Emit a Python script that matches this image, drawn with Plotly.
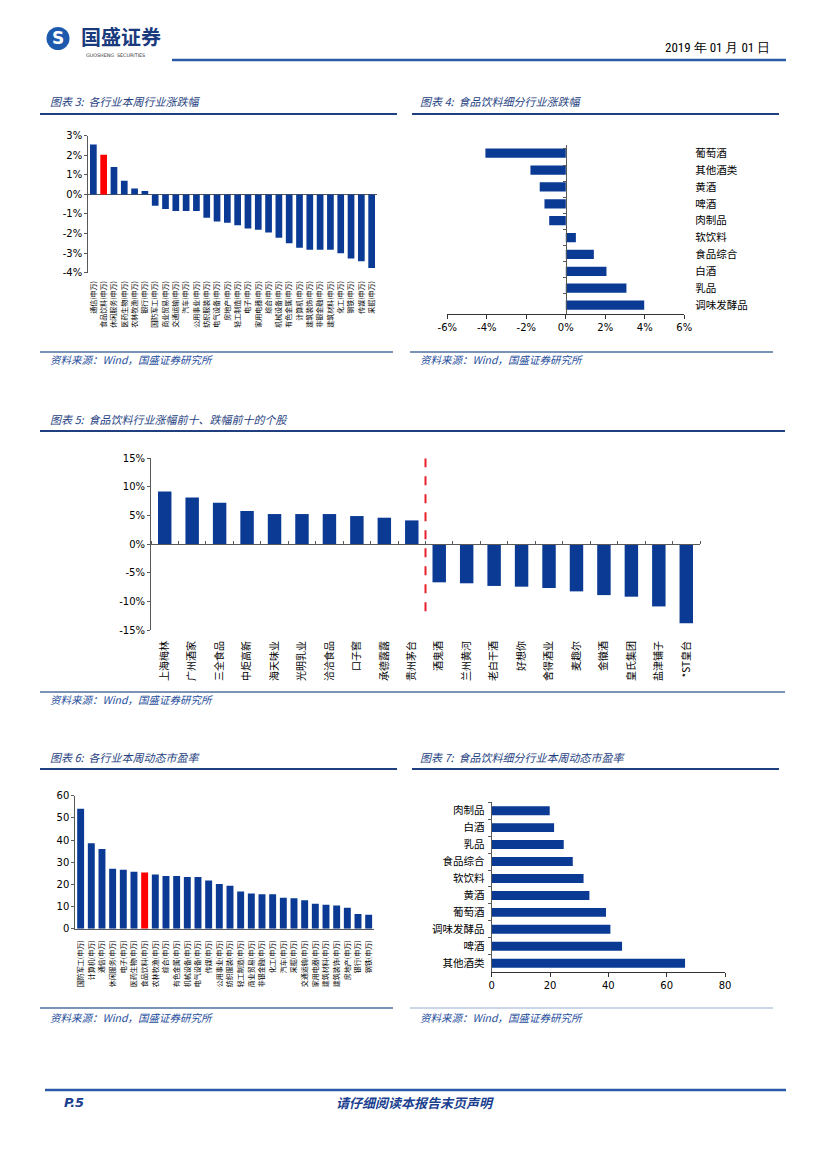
import plotly.graph_objects as go

# The page body has an 8px margin, so the figure is drawn 8px in from the corner.
OFF = 8
PAGE_W, PAGE_H = 827, 1169
W, H = PAGE_W - OFF, PAGE_H - OFF
def X(px): return (px - OFF) / W
def Y(py): return 1 - (py - OFF) / H

BLUE = "#0a3a94"
RED = "#ff0000"
AX = "#595959"
CJK = "Noto Sans CJK SC"
NUM = "DejaVu Sans"

# ---------- data ----------
c3_names = ["通信", "食品饮料", "休闲服务", "医药生物", "农林牧渔", "银行", "国防军工", "商业贸易",
            "交通运输", "汽车", "公用事业", "纺织服装", "电气设备", "房地产", "轻工制造", "电子",
            "家用电器", "综合", "机械设备", "有色金属", "计算机", "建筑装饰", "非银金融", "建筑材料",
            "化工", "钢铁", "传媒", "采掘"]
c3_vals = [2.55, 2.03, 1.40, 0.70, 0.30, 0.17, -0.58, -0.75, -0.85, -0.85, -0.85, -1.19, -1.38, -1.45,
           -1.57, -1.74, -1.80, -1.94, -2.21, -2.49, -2.72, -2.83, -2.83, -2.83, -3.00, -3.28, -3.42, -3.76]
c3_ticks = [3, 2, 1, 0, -1, -2, -3, -4]
c3_ticktext = ["3%", "2%", "1%", "0%", "-1%", "-2%", "-3%", "-4%"]

c4_names = ["葡萄酒", "其他酒类", "黄酒", "啤酒", "肉制品", "软饮料", "食品综合", "白酒", "乳品", "调味发酵品"]
c4_vals = [-4.07, -1.79, -1.32, -1.08, -0.84, 0.51, 1.42, 2.06, 3.07, 3.97]
c4_ticks = [-6, -4, -2, 0, 2, 4, 6]
c4_ticktext = ["-6%", "-4%", "-2%", "0%", "2%", "4%", "6%"]

c5_names = ["上海梅林", "广州酒家", "三全食品", "中炬高新", "海天味业", "光明乳业", "洽洽食品", "口子窖",
            "承德露露", "贵州茅台", "酒鬼酒", "兰州黄河", "老白干酒", "好想你", "舍得酒业", "麦趣尔",
            "金徽酒", "皇氏集团", "盐津铺子", "*ST皇台"]
c5_vals = [9.18, 8.13, 7.25, 5.79, 5.26, 5.26, 5.26, 4.91, 4.62, 4.15,
           -6.67, -6.84, -7.30, -7.43, -7.66, -8.25, -8.90, -9.18, -10.88, -13.80]
c5_ticks = [15, 10, 5, 0, -5, -10, -15]
c5_ticktext = ["15%", "10%", "5%", "0%", "-5%", "-10%", "-15%"]

c6_names = ["国防军工", "计算机", "通信", "休闲服务", "电子", "医药生物", "食品饮料", "农林牧渔", "综合",
            "有色金属", "机械设备", "电气设备", "传媒", "公用事业", "纺织服装", "轻工制造", "商业贸易",
            "非银金融", "化工", "汽车", "采掘", "交通运输", "家用电器", "建筑材料", "建筑装饰", "房地产",
            "银行", "钢铁"]
c6_vals = [54.1, 38.5, 35.9, 27.1, 26.6, 25.7, 25.3, 24.4, 23.8, 23.8, 23.3, 23.3, 21.8, 20.2, 19.4,
           16.8, 15.9, 15.5, 15.5, 14.0, 13.7, 12.8, 11.3, 10.8, 10.5, 9.5, 6.6, 6.3]

c7_names = ["肉制品", "白酒", "乳品", "食品综合", "软饮料", "黄酒", "葡萄酒", "调味发酵品", "啤酒", "其他酒类"]
c7_vals = [19.9, 21.4, 24.7, 27.8, 31.5, 33.5, 39.2, 40.7, 44.7, 66.3]

c3_labels = [n + "(申万)" for n in c3_names]
c6_labels = [n + "(申万)" for n in c6_names]
HIGHLIGHT = "食品饮料"

fig = go.Figure()

# chart 3
fig.add_trace(go.Bar(x=c3_labels, y=c3_vals, xaxis="x", yaxis="y", width=0.65,
                     marker=dict(color=[RED if n == HIGHLIGHT else BLUE for n in c3_names], line_width=0),
                     showlegend=False))
# chart 4
fig.add_trace(go.Bar(x=c4_vals, y=c4_names, orientation="h", xaxis="x2", yaxis="y2", width=0.55,
                     marker=dict(color=BLUE, line_width=0), showlegend=False))
fig.add_trace(go.Scatter(x=[0] * len(c4_names), y=c4_names, xaxis="x2", yaxis="y7", mode="markers",
                         marker=dict(opacity=0), hoverinfo="skip", showlegend=False))
# chart 5
fig.add_trace(go.Bar(x=c5_names, y=c5_vals, xaxis="x3", yaxis="y3", width=0.49,
                     marker=dict(color=BLUE, line_width=0), showlegend=False))
fig.add_trace(go.Scatter(x=c5_names, y=[0] * len(c5_names), xaxis="x6", yaxis="y3", mode="markers",
                         marker=dict(opacity=0), hoverinfo="skip", showlegend=False))
# chart 6
fig.add_trace(go.Bar(x=c6_labels, y=c6_vals, xaxis="x4", yaxis="y4", width=0.65,
                     marker=dict(color=[RED if n == HIGHLIGHT else BLUE for n in c6_names], line_width=0),
                     showlegend=False))
# chart 7
fig.add_trace(go.Bar(x=c7_vals, y=c7_names, orientation="h", xaxis="x5", yaxis="y5", width=0.53,
                     marker=dict(color=BLUE, line_width=0), showlegend=False))

numfont = dict(family=NUM, size=10, color="black")
COMMON = dict(automargin=False, showgrid=False, fixedrange=True)

lay = dict(
    template="none",
    width=W, height=H, margin=dict(l=0, r=0, t=0, b=0, pad=0), autosize=False,
    paper_bgcolor="white", plot_bgcolor="rgba(0,0,0,0)", showlegend=False,
    font=dict(family=CJK, color="black"),
    # chart 3
    xaxis=dict(domain=[X(88.2), X(376.8)], anchor="y", type="category", range=[-0.5, 27.5],
               tickangle=-90, tickfont=dict(family=CJK, size=7, color="black"), showline=False,
               ticks="", zeroline=False, ticklabelstandoff=6, **COMMON),
    yaxis=dict(domain=[Y(272.7), Y(135.7)], anchor="x", range=[-4, 3],
               tickmode="array", tickvals=c3_ticks, ticktext=c3_ticktext,
               tickfont=numfont, showline=True, linecolor=AX, linewidth=1, ticks="outside",
               ticklen=3, tickcolor=AX, zeroline=True, zerolinecolor=AX, zerolinewidth=1, **COMMON),
    # chart 4
    xaxis2=dict(domain=[X(447.3), X(684.3)], anchor="y2", range=[-6, 6],
                tickmode="array", tickvals=c4_ticks, ticktext=c4_ticktext,
                tickfont=numfont, showline=True, linecolor="#333333", linewidth=1, ticks="outside",
                ticklen=4, tickcolor="#333333", zeroline=False, **COMMON),
    yaxis2=dict(domain=[Y(313.5), Y(144.8)], anchor="x2", type="category", side="right",
                autorange="reversed", tickfont=dict(family=CJK, size=10.5, color="black"),
                showline=False, ticks="", ticklabelstandoff=10, zeroline=False, **COMMON),
    yaxis7=dict(overlaying="y2", anchor="free", position=X(565.8), side="left", type="category",
                autorange="reversed", categoryorder="array", categoryarray=c4_names,
                showticklabels=False, showline=True, linecolor=AX, linewidth=1, ticks="outside",
                tickson="boundaries", ticklen=3, tickcolor=AX, zeroline=False, **COMMON),
    # chart 5
    xaxis3=dict(domain=[X(151), X(700)], anchor="y3", type="category", range=[-0.5, 19.5],
                tickangle=-90, tickfont=dict(family=CJK, size=10, color="black"), showline=False,
                ticks="", ticklabelstandoff=8, zeroline=False, **COMMON),
    xaxis6=dict(overlaying="x3", anchor="free", position=Y(544.15), side="top", type="category",
                range=[-0.5, 19.5], categoryorder="array", categoryarray=c5_names,
                showticklabels=False, showline=True, linecolor=AX, linewidth=1, ticks="outside",
                tickson="boundaries", ticklen=3, tickcolor=AX, zeroline=False, **COMMON),
    yaxis3=dict(domain=[Y(630), Y(458.3)], anchor="x3", range=[-15, 15],
                tickmode="array", tickvals=c5_ticks, ticktext=c5_ticktext,
                tickfont=numfont, showline=True, linecolor=AX, linewidth=1, ticks="outside",
                ticklen=3, tickcolor=AX, zeroline=False, **COMMON),
    # chart 6
    xaxis4=dict(domain=[X(75.3), X(374)], anchor="y4", type="category", range=[-0.5, 27.5],
                tickangle=-90, tickfont=dict(family=CJK, size=7, color="black"), showline=True,
                linecolor=AX, linewidth=1, ticks="", ticklabelstandoff=8, zeroline=False, **COMMON),
    yaxis4=dict(domain=[Y(928.7), Y(795.7)], anchor="x4", range=[0, 60], dtick=10,
                tickfont=numfont, showline=True, linecolor=AX, linewidth=1, ticks="outside",
                ticklen=3, tickcolor=AX, zeroline=False, **COMMON),
    # chart 7
    xaxis5=dict(domain=[X(491.7), X(725)], anchor="y5", range=[0, 80], dtick=20,
                tickfont=numfont, showline=True, linecolor="#333333", linewidth=1, ticks="outside",
                ticklen=4, tickcolor="#333333", zeroline=False, **COMMON),
    yaxis5=dict(domain=[Y(971.7), Y(802.2)], anchor="x5", type="category", autorange="reversed",
                tickfont=dict(family=CJK, size=10.5, color="black"), showline=True, linecolor=AX,
                linewidth=1, ticks="outside", tickson="boundaries", ticklen=3, tickcolor=AX,
                ticklabelstandoff=4, zeroline=False, **COMMON),
)
fig.update_layout(**lay)

shapes = []
def hline(x0, x1, y, color, width):
    shapes.append(dict(type="line", xref="paper", yref="paper", x0=X(x0), x1=X(x1), y0=Y(y), y1=Y(y),
                       line=dict(color=color, width=width)))

TITLE_LINE = "#1f3f7f"
SRC_LINE = "#4f6f9f"
hline(172, 786, 60, "#2a5aa8", 2.5)          # header
hline(40, 397, 114, TITLE_LINE, 2)
hline(412, 779, 114, TITLE_LINE, 2)
hline(40, 393, 352, SRC_LINE, 1.5)
hline(410, 773, 352, SRC_LINE, 1.5)
hline(40, 785, 431, TITLE_LINE, 2)
hline(40, 785, 692, SRC_LINE, 1.5)
hline(40, 397, 769, TITLE_LINE, 2)
hline(412, 779, 769, TITLE_LINE, 2)
hline(40, 393, 1008, SRC_LINE, 1.5)
hline(410, 773, 1008, "#b8c8e0", 1.5)
hline(45, 786, 1090, "#2a5aa8", 2.5)          # footer

# divider in chart 5
shapes.append(dict(type="line", xref="x3", yref="y3", x0=9.5, x1=9.5, y0=15, y1=-12,
                   line=dict(color="#e8202a", width=2, dash="dash")))

# logo
shapes.append(dict(type="circle", xref="paper", yref="paper", x0=X(46.5), x1=X(69.5),
                   y0=Y(50), y1=Y(27), fillcolor="#1d5aae", line=dict(width=0)))
fig.update_layout(shapes=shapes)

annos = []
def txt(x, y, s, size, color="black", family=CJK, anchor="left", bold=False, italic=False):
    if bold:
        s = "<b>" + s + "</b>"
    if italic:
        s = "<i>" + s + "</i>"
    annos.append(dict(xref="paper", yref="paper", x=X(x), y=Y(y), text=s, showarrow=False,
                      xanchor=anchor, yanchor="middle", font=dict(family=family, size=size, color=color)))

txt(58, 38.5, "S", 17, "white", "DejaVu Sans", anchor="center", bold=True)
txt(79, 36.5, "国盛证券", 20, "#1a3a7e", CJK, bold=True)
txt(84, 55.5, "GUOSHENG  SECURITIES", 4.8, "#333333", "DejaVu Sans")
txt(772, 48, "2019 年 01 月 01 日", 13, "black",
    "Liberation Sans Narrow, Arial Narrow, Roboto Condensed, Liberation Sans, sans-serif", anchor="right")

TCOL = "#1f3f7f"
TS = 11
txt(48, 101, "图表 3:  各行业本周行业涨跌幅", TS, TCOL, italic=True)
txt(418, 101, "图表 4:  食品饮料细分行业涨跌幅", TS, TCOL, italic=True)
txt(48, 419, "图表 5:  食品饮料行业涨幅前十、跌幅前十的个股", TS, TCOL, italic=True)
txt(48, 757, "图表 6:  各行业本周动态市盈率", TS, TCOL, italic=True)
txt(418, 757, "图表 7:  食品饮料细分行业本周动态市盈率", TS, TCOL, italic=True)

SCOL = "#1f4e9c"
SS = 10.5
src = "资料来源：Wind，国盛证券研究所"
txt(48, 359, src, SS, SCOL, italic=True)
txt(418, 359, src, SS, SCOL, italic=True)
txt(48, 699, src, SS, SCOL, italic=True)
txt(48, 1017, src, SS, SCOL, italic=True)
txt(418, 1017, src, SS, SCOL, italic=True)

txt(62, 1102, "P.5", 13, "#1a3f8f", "DejaVu Sans", bold=True, italic=True)
txt(415, 1102, "请仔细阅读本报告末页声明", 13, "#1a3f8f", CJK, anchor="center", bold=True, italic=True)

fig.update_layout(annotations=annos)
fig.write_html("out.html")
